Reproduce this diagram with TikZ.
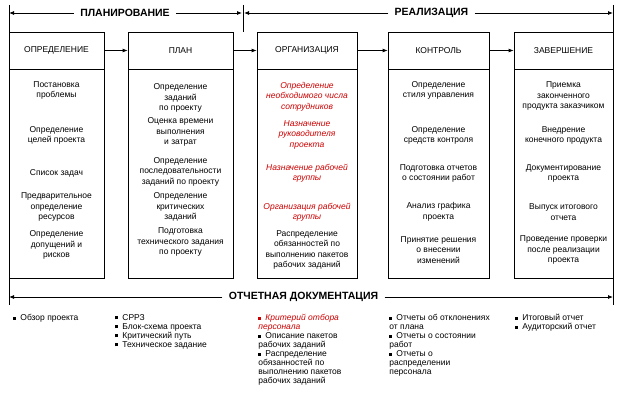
\documentclass[tikz,border=0pt]{standalone}
\usepackage{fontspec}
\setmainfont{Liberation Sans}
\usepackage{xcolor}
\usetikzlibrary{calc,arrows.meta}

\definecolor{redtext}{RGB}{204,0,0}
\newcommand{\sqbul}{\rule[1pt]{3pt}{3pt}\hspace{4pt}}
\newcommand{\redit}[1]{{\color{redtext}\itshape #1}}

\tikzset{
  phase/.style={draw, line width=0.8pt, minimum height=37pt, inner sep=0pt, font=\fontsize{8.5}{10}\selectfont},
  stage/.style={draw, line width=0.8pt, minimum height=209pt, inner sep=0pt, anchor=north},
  task/.style={align=center, inner sep=0pt, font=\fontsize{8.5}{10.5}\selectfont},
  redtask/.style={task, text=redtext, font=\fontsize{8.5}{10.5}\selectfont\itshape},
  title/.style={font=\fontsize{10.5}{12}\selectfont\bfseries, inner xsep=6pt, inner ysep=1pt},
  doc/.style={align=left, anchor=north west, inner sep=0pt, font=\fontsize{8.5}{9}\selectfont},
}

\begin{document}
\begin{tikzpicture}[x=1pt,y=-1pt,line width=0.8pt,>={Latex[length=5pt,width=4pt]}]
\useasboundingbox (0,0) rectangle (628,409);

%frame lines
\coordinate (lt) at (9,5);
\coordinate (lb) at (9,305);
\coordinate (rt) at (613,5);
\coordinate (rb) at (613,305);
\coordinate (mt) at (243,5);
\coordinate (mb) at (243,32);
\draw (lt) -- (lb);
\draw (rt) -- (rb);
\draw (mt) -- (mb);

%top titles
\coordinate (pl) at (9,13);
\coordinate (pr) at (242,13);
\coordinate (rl) at (244,13);
\coordinate (rr) at (613,13);
\node[title] (plan) at (125,13) {ПЛАНИРОВАНИЕ};
\draw[->] (plan) -- (pl);
\draw[->] (plan) -- (pr);
\node[title] (real) at (431.5,13) {РЕАЛИЗАЦИЯ};
\draw[->] (real) -- (rl);
\draw[->] (real) -- (rr);

%phases
\node[phase, minimum width=95pt] (p1) at (56.5,50.5) {ОПРЕДЕЛЕНИЕ};
\node[phase, minimum width=105pt] (p2) at (180.5,50.5) {ПЛАН};
\node[phase, minimum width=100pt] (p3) at (307,50.5) {ОРГАНИЗАЦИЯ};
\node[phase, minimum width=101pt] (p4) at (438.5,50.5) {КОНТРОЛЬ};
\node[phase, minimum width=99pt] (p5) at (563.5,50.5) {ЗАВЕРШЕНИЕ};
\foreach \a/\b in {p1/p2,p2/p3,p3/p4,p4/p5}
  \draw[->] (\a) -- (\b);

%stage bodies
\node[stage, minimum width=95pt] (s1) at (p1.south) {};
\node[stage, minimum width=105pt] (s2) at (p2.south) {};
\node[stage, minimum width=100pt] (s3) at (p3.south) {};
\node[stage, minimum width=101pt] (s4) at (p4.south) {};
\node[stage, minimum width=99pt] (s5) at (p5.south) {};

%definition
\node[task] (t11) at (56.5,90.5) {Постановка\\проблемы};
\node[task] (t12) at (56.5,135.5) {Определение\\целей проекта};
\node[task] (t13) at (56.5,173) {Список задач};
\node[task] (t14) at (56.5,207) {Предварительное\\определение\\ресурсов};
\node[task] (t15) at (56.5,245) {Определение\\допущений и\\рисков};

%plan
\node[task] (t21) at (180.5,98) {Определение\\заданий\\по проекту};
\node[task] (t22) at (180.5,132) {Оценка времени\\выполнения\\и затрат};
\node[task] (t23) at (180.5,171.5) {Определение\\последовательности\\заданий по проекту};
\node[task] (t24) at (180.5,207) {Определение\\критических\\заданий};
\node[task] (t25) at (180.5,242) {Подготовка\\технического задания\\по проекту};

%organization
\node[redtask] (t31) at (307,96.5) {Определение\\необходимого числа\\сотрудников};
\node[redtask] (t32) at (307,134.5) {Назначение\\руководителя\\проекта};
\node[redtask] (t33) at (307,173) {Назначение рабочей\\группы};
\node[redtask] (t34) at (307,212) {Организация рабочей\\группы};
\node[task] (t35) at (307,250) {Распределение\\обязанностей по\\выполнению пакетов\\рабочих заданий};

%control
\node[task] (t41) at (438.5,90.5) {Определение\\стиля управления};
\node[task] (t42) at (438.5,135.5) {Определение\\средств контроля};
\node[task] (t43) at (438.5,173.5) {Подготовка отчетов\\о состоянии работ};
\node[task] (t44) at (438.5,212) {Анализ графика\\проекта};
\node[task] (t45) at (438.5,250) {Принятие решения\\о внесении\\изменений};

%completion
\node[task] (t51) at (563.5,96) {Приемка\\законченного\\продукта заказчиком};
\node[task] (t52) at (563.5,135.5) {Внедрение\\конечного продукта};
\node[task] (t53) at (563.5,173.5) {Документирование\\проекта};
\node[task] (t54) at (563.5,212) {Выпуск итогового\\отчета};
\node[task] (t55) at (563.5,250) {Проведение проверки\\после реализации\\проекта};

%documentation
\coordinate (dl) at (9,297);
\coordinate (dr) at (613,297);
\node[title] (docs) at (303.5,297) {ОТЧЕТНАЯ ДОКУМЕНТАЦИЯ};
\draw[->] (docs) -- (dl);
\draw[->] (docs) -- (dr);

\node[doc] (d1) at (13,314) {\sqbul Обзор проекта};
\node[doc] (d2) at (115,314) {\sqbul СРРЗ\\\sqbul Блок-схема проекта\\\sqbul Критический путь\\\sqbul Техническое задание};
\node[doc] (d3) at (258,314) {\redit{\sqbul Критерий отбора}\\\redit{персонала}\\\sqbul Описание пакетов\\рабочих заданий\\\sqbul Распределение\\обязанностей по\\выполнению пакетов\\рабочих заданий};
\node[doc] (d4) at (389,314) {\sqbul Отчеты об отклонениях\\от плана\\\sqbul Отчеты о состоянии\\работ\\\sqbul Отчеты о\\распределении\\персонала};
\node[doc] (d5) at (515,314) {\sqbul Итоговый отчет\\\sqbul Аудиторский отчет};
\end{tikzpicture}
\end{document}
